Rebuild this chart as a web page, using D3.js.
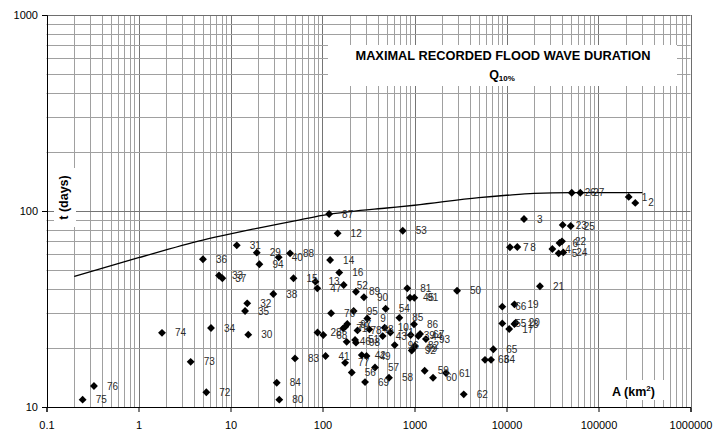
<!DOCTYPE html>
<html>
<head>
<meta charset="utf-8">
<script src="https://cdn.jsdelivr.net/npm/d3@7"></script>
<style>
  body { margin: 0; background: #fff; }
  svg { display: block; font-family: "Liberation Sans", Arial, sans-serif; }
</style>
</head>
<body>
<svg width="715" height="435"></svg>
<script>
// station numbers, catchment area A (km2) and max recorded duration t (days)
const stations = ["1","2","3","4","5","6","7","8","9","10","11","12","13","14","15","16","17","18","19","20",
  "21","22","23","24","25","26","27","28","29","30","31","32","33","34","35","36","37","38","39","40",
  "41","42","43","44","45","46","47","48","49","50","51","52","53","54","55","56","57","58","59","60",
  "61","62","63","64","65","66","67","68","69","70","71","72","73","74","75","76","77","78","79","80",
  "81","82","83","84","85","86","87","88","89","90","91","92","93","94","95","96","97","98","99"];
const areas = [213000, 251000, 15500, 31500, 36900, 37700, 10900, 13100, 307, 474,
  546, 146, 83.9, 121, 48.4, 152, 10700, 12200, 12200, 12600,
  23100, 40100, 40800, 41400, 49900, 51200, 63400, 88.3, 19.3, 15.6,
  11.7, 15.2, 7.5, 6.14, 14.4, 5.02, 8.15, 29.2, 909, 33.4,
  108, 267, 451, 1100, 893, 183, 87.8, 323, 301, 2900,
  226, 170, 745, 486, 9000, 208, 372, 528, 1290, 1590,
  2200, 3430, 5840, 6790, 7190, 9000, 1150, 102, 290, 124,
  168, 5.46, 3.69, 1.8, 0.247, 0.328, 176, 240, 177, 33.9,
  835, 1010, 50.2, 31.8, 684, 988, 118, 44.4, 231, 282,
  995, 933, 1330, 20.6, 218, 609, 186, 231, 970];
const days = [118, 110, 91, 64, 60.8, 68.7, 65.3, 65.5, 28.3, 25.4,
  24.0, 76.9, 43.6, 56.2, 45.4, 48.5, 25.0, 26.5, 33.4, 26.9,
  41.3, 70.0, 84.9, 61.5, 83.8, 124, 124, 24.0, 61.3, 23.4,
  66.8, 33.8, 46.9, 25.3, 30.9, 56.7, 45.4, 37.7, 23.3, 58.0,
  18.2, 18.4, 23.0, 23.0, 36.1, 21.5, 40.3, 24.9, 18.2, 39.2,
  22.0, 41.9, 79.3, 31.7, 26.7, 15.0, 15.9, 14.1, 15.3, 14.1,
  14.9, 11.6, 17.4, 17.4, 19.7, 32.5, 23.6, 23.3, 13.4, 30.1,
  25.2, 11.9, 17.0, 23.9, 10.9, 12.8, 16.8, 24.6, 25.7, 10.9,
  40.3, 20.5, 17.7, 13.3, 28.5, 26.4, 96.6, 60.8, 38.7, 36.3,
  36.1, 19.4, 22.2, 53.5, 30.9, 20.7, 26.5, 21.3, 19.9];

// envelope curve Q10%
const curveAreas = [0.2, 1, 5, 10, 20, 50, 100, 200, 500, 1000, 5000, 10000, 20000, 50000, 100000, 300000];
const curveDays = [46.4, 57.8, 71.1, 76.5, 81.8, 89.1, 95.1, 99.3, 103.6, 107, 117, 120.3, 123, 124, 124, 124];

const xTicks = [0.1, 1, 10, 100, 1000, 10000, 100000, 1000000];
const yTicks = [10, 100, 1000];

const svg = d3.select("svg");

const x = d3.scaleLog()
  .domain([0.1, 1000000])
  .range([46.5, 690.5]);

const y = d3.scaleLog()
  .domain([10, 1000])
  .range([407, 15]);

const crisp = v => Math.round(v) + 0.5;

// grid: every 1..9 within each decade
const xGrid = [];
xTicks.slice(0, -1).forEach(d => d3.range(1, 10).forEach(k => xGrid.push(d * k)));
const yGrid = [];
yTicks.slice(0, -1).forEach(d => d3.range(1, 10).forEach(k => yGrid.push(d * k)));

const grid = svg.append("g").attr("class", "grid");

grid.selectAll("line.v")
  .data(xGrid.slice(1))
  .enter().append("line")
  .attr("class", "v")
  .attr("x1", d => crisp(x(d)))
  .attr("x2", d => crisp(x(d)))
  .attr("y1", y(1000))
  .attr("y2", y(10))
  .attr("stroke", d => xTicks.includes(d) ? "#757575" : "#a0a0a0")
  .attr("stroke-width", 1);

grid.selectAll("line.h")
  .data(yGrid.slice(1))
  .enter().append("line")
  .attr("class", "h")
  .attr("y1", d => crisp(y(d)))
  .attr("y2", d => crisp(y(d)))
  .attr("x1", x(0.1))
  .attr("x2", x(1000000))
  .attr("stroke", d => yTicks.includes(d) ? "#757575" : "#a0a0a0")
  .attr("stroke-width", 1);

// frame
svg.append("line")
  .attr("x1", x(0.1)).attr("x2", x(1000000))
  .attr("y1", crisp(y(1000))).attr("y2", crisp(y(1000)))
  .attr("stroke", "#6e6e6e");
svg.append("line")
  .attr("x1", crisp(x(1000000))).attr("x2", crisp(x(1000000)))
  .attr("y1", y(1000)).attr("y2", y(10))
  .attr("stroke", "#6e6e6e");

// title box
svg.append("rect")
  .attr("x", 328).attr("y", 45)
  .attr("width", 349).attr("height", 41)
  .attr("fill", "#fff");

svg.append("text")
  .attr("x", 503).attr("y", 60)
  .attr("text-anchor", "middle")
  .attr("font-size", 12.8)
  .attr("font-weight", "bold")
  .attr("fill", "#000")
  .text("MAXIMAL RECORDED FLOOD WAVE DURATION");

const q = svg.append("text")
  .attr("x", 502).attr("y", 79)
  .attr("text-anchor", "middle")
  .attr("font-weight", "bold")
  .attr("fill", "#000");
q.append("tspan").attr("font-size", 12.5).text("Q");
q.append("tspan").attr("font-size", 8).attr("dy", 2).text("10%");

// axis titles on white patches
svg.append("rect")
  .attr("x", 54).attr("y", 168)
  .attr("width", 22).attr("height", 59)
  .attr("fill", "#fff");
svg.append("text")
  .attr("transform", "translate(68,197.5) rotate(-90)")
  .attr("text-anchor", "middle")
  .attr("font-size", 12.5)
  .attr("font-weight", "bold")
  .attr("fill", "#000")
  .text("t (days)");

svg.append("rect")
  .attr("x", 607).attr("y", 380)
  .attr("width", 57).attr("height", 20)
  .attr("fill", "#fff");
const ax = svg.append("text")
  .attr("x", 612).attr("y", 395.5)
  .attr("font-size", 12.5)
  .attr("font-weight", "bold")
  .attr("fill", "#000");
ax.append("tspan").text("A (km");
ax.append("tspan").attr("font-size", 8).attr("dy", -5).text("2");
ax.append("tspan").attr("dy", 5).text(")");

// axes
svg.append("g")
  .attr("transform", `translate(0,${crisp(y(10)) - 0.5})`)
  .call(d3.axisBottom(x)
    .tickValues(xTicks)
    .tickSize(5)
    .tickFormat(d => d < 1 ? "0.1" : d3.format("d")(d)))
  .call(g => g.select(".domain").attr("stroke", "#000"))
  .call(g => g.selectAll("text")
    .attr("font-size", 11)
    .attr("font-family", "Liberation Sans, Arial, sans-serif")
    .attr("fill", "#000")
    .attr("dy", "1.25em"));

svg.append("g")
  .attr("transform", `translate(${crisp(x(0.1)) - 0.5},0)`)
  .call(d3.axisLeft(y)
    .tickValues(yTicks)
    .tickSize(5)
    .tickFormat(d3.format("d")))
  .call(g => g.select(".domain").attr("stroke", "#000"))
  .call(g => g.selectAll("text")
    .attr("font-size", 11)
    .attr("font-family", "Liberation Sans, Arial, sans-serif")
    .attr("fill", "#000")
    .attr("x", -9));

// envelope line
const line = d3.line()
  .x(d => x(d[0]))
  .y(d => y(d[1]))
  .curve(d3.curveMonotoneX);

svg.append("path")
  .datum(d3.zip(curveAreas, curveDays))
  .attr("d", line)
  .attr("fill", "none")
  .attr("stroke", "#000")
  .attr("stroke-width", 1.3);

// stations
const pts = stations.map((s, i) => ({ id: s, a: areas[i], t: days[i] }));
const diamond = d3.symbol().type(d3.symbolSquare).size(31);

svg.append("g")
  .selectAll("path")
  .data(pts)
  .enter().append("path")
  .attr("d", diamond)
  .attr("transform", d => `translate(${x(d.a)},${y(d.t)}) rotate(45)`)
  .attr("fill", "#000");

svg.append("g")
  .selectAll("text")
  .data(pts)
  .enter().append("text")
  .attr("x", d => x(d.a) + 13)
  .attr("y", d => y(d.t))
  .attr("dy", "0.36em")
  .attr("font-size", 10)
  .attr("fill", "#2a2a2a")
  .text(d => d.id);
</script>
</body>
</html>
